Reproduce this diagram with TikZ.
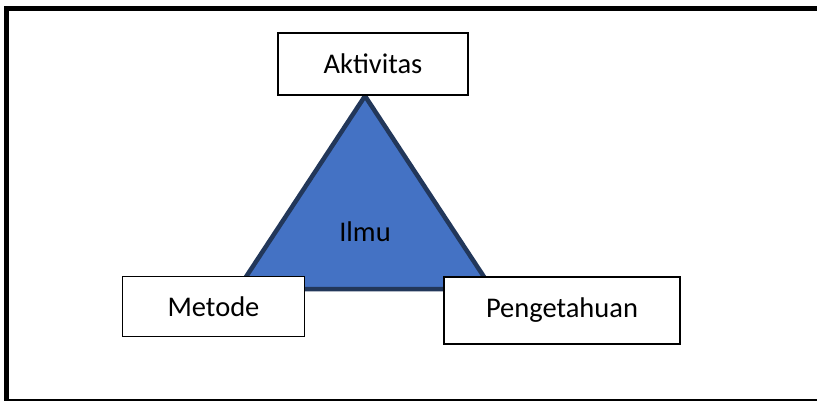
\documentclass[tikz,border=0pt]{standalone}
\usepackage{fontspec}
\setmainfont{Carlito}
\definecolor{ilmublue}{HTML}{4472C4}
\definecolor{ilmuedge}{HTML}{22375A}

\begin{document}
\begin{tikzpicture}
	[x=1pt,y=-1pt,every node/.style={shape=rectangle,draw,line width=1.6pt,fill=white,inner sep=0pt,
		font=\fontsize{28.5}{30}\selectfont}]
	\useasboundingbox (0,0) rectangle (817,400);
	\draw[line width=5pt] (6.5,8.5) rectangle (840,401.5);

	% triangle behind the boxes
	\coordinate (top) at (365,96);
	\coordinate (bl) at (238,289);
	\coordinate (br) at (492,289);
	\draw[line width=4.5pt,line join=miter,fill=ilmublue,draw=ilmuedge] (top) -- (bl) -- (br) -- cycle;
	\node[draw=none,fill=none] (ilmu) at (365,232) {Ilmu};

	\node[minimum width=190pt,minimum height=62pt] (akt) at (373,64) {Aktivitas};
	\node[minimum width=182pt,minimum height=60pt] (met) at (213.5,306.5) {Metode};
	\node[minimum width=236pt,minimum height=67pt] (peng) at (562,310.5) {Pengetahuan};
\end{tikzpicture}
\end{document}
